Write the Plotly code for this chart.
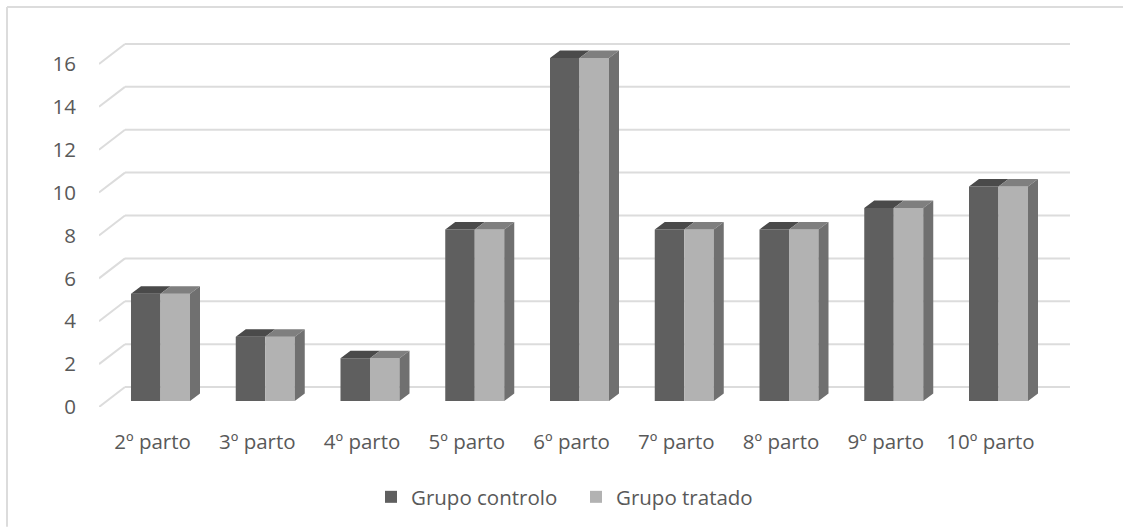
import plotly.graph_objects as go

categories = ["2º parto", "3º parto", "4º parto", "5º parto", "6º parto",
              "7º parto", "8º parto", "9º parto", "10º parto"]
grupo_controlo = [5, 3, 2, 8, 16, 8, 8, 9, 10]
grupo_tratado = [5, 3, 2, 8, 16, 8, 8, 9, 10]
y_ticks = [0, 2, 4, 6, 8, 10, 12, 14, 16]

W, H = 1123, 528
L, R, T, B = 99, 1070, 30, 408          # plot area in page pixels
PX_X = 104.75                           # pixels per category
PX_Y = 21.5                             # pixels per value unit
X0_PX, Y0_PX = 160.5, 402               # where category 0 / value 0 fall

x_range = [(L - X0_PX) / PX_X, (R - X0_PX) / PX_X]
y_range = [(Y0_PX - B) / PX_Y, (Y0_PX - T) / PX_Y]

BAR_W = 59 / PX_X
DX, DY = 10 / PX_X, 7.5 / PX_Y          # bar depth
BACK_X, BACK_Y = 18 / PX_X, 14 / PX_Y   # wall offset behind the bar plane
FRONT_X, FRONT_Y = -8 / PX_X, -6 / PX_Y # floor edge in front of the bar plane

GRID = "#dcdcdc"
TEXT = "#595959"
DARK, LIGHT = "#5f5f5f", "#b2b2b2"
DARK_TOP, LIGHT_TOP, SIDE = "#4a4a4a", "#7f7f7f", "#707070"


def face(values, corners):
    xs, ys = [], []
    for i, v in enumerate(values):
        for cx, cy in corners(i, v):
            xs.append(cx)
            ys.append(cy)
        xs.append(None)
        ys.append(None)
    return xs, ys


fig = go.Figure()
fig.add_bar(x=list(range(len(categories))), y=grupo_controlo, name="Grupo controlo",
            marker=dict(color=DARK, line=dict(width=0)))
fig.add_bar(x=list(range(len(categories))), y=grupo_tratado, name="Grupo tratado",
            marker=dict(color=LIGHT, line=dict(width=0)))


def add_face(values, corners, color):
    xs, ys = face(values, corners)
    fig.add_scatter(x=xs, y=ys, mode="lines", fill="toself", fillcolor=color,
                    line=dict(width=0, color=color), showlegend=False, hoverinfo="skip")


add_face(grupo_controlo,
         lambda i, v: [(i - BAR_W / 2, v), (i, v), (i + DX, v + DY), (i - BAR_W / 2 + DX, v + DY)],
         DARK_TOP)
add_face(grupo_tratado,
         lambda i, v: [(i, v), (i + BAR_W / 2, v), (i + BAR_W / 2 + DX, v + DY), (i + DX, v + DY)],
         LIGHT_TOP)
add_face(grupo_tratado,
         lambda i, v: [(i + BAR_W / 2, 0), (i + BAR_W / 2, v), (i + BAR_W / 2 + DX, v + DY),
                       (i + BAR_W / 2 + DX, DY)],
         SIDE)

shapes = []
for t in y_ticks:
    # oblique floor/wall join, then the line along the back wall
    shapes.append(dict(type="line", layer="below", xref="x", yref="y",
                       x0=x_range[0], y0=t + FRONT_Y,
                       x1=x_range[0] + BACK_X - FRONT_X, y1=t + BACK_Y,
                       line=dict(color=GRID, width=2)))
    shapes.append(dict(type="line", layer="below", xref="x", yref="y",
                       x0=x_range[0] + BACK_X - FRONT_X, y0=t + BACK_Y,
                       x1=x_range[1], y1=t + BACK_Y,
                       line=dict(color=GRID, width=2)))

pw, ph = R - L, B - T
px = lambda v: (v - L) / pw
py = lambda v: (B - v) / ph
shapes.append(dict(type="line", xref="paper", yref="paper", x0=px(7), y0=py(7), x1=px(W), y1=py(7),
                   line=dict(color=GRID, width=2)))
shapes.append(dict(type="line", xref="paper", yref="paper", x0=px(7), y0=py(7), x1=px(7), y1=py(H),
                   line=dict(color=GRID, width=2)))

font = dict(family="Open Sans, sans-serif", size=20.5, color=TEXT)
fig.update_layout(
    width=W, height=H, autosize=False,
    margin=dict(l=L, r=W - R, t=T, b=H - B, pad=0),
    paper_bgcolor="white", plot_bgcolor="white",
    barmode="group", bargap=1 - BAR_W, bargroupgap=0,
    font=font, shapes=shapes,
    legend=dict(orientation="h", x=px(371), xanchor="left", y=py(497), yanchor="middle",
                font=font, bgcolor="rgba(0,0,0,0)", itemwidth=30,
                entrywidth=160, entrywidthmode="pixels"),
    xaxis=dict(range=x_range, tickmode="array",
               tickvals=[i + FRONT_X for i in range(len(categories))],
               ticktext=categories, showgrid=False, zeroline=False, showline=False,
               ticks="outside", ticklen=16, tickcolor="rgba(0,0,0,0)", tickfont=font),
    yaxis=dict(range=y_range, tickmode="array", tickvals=[t + FRONT_Y for t in y_ticks],
               ticktext=[str(t) for t in y_ticks], showgrid=False, zeroline=False, showline=False,
               ticks="outside", ticklen=18, tickcolor="rgba(0,0,0,0)", tickfont=font),
)
fig.write_html("out.html", config=dict(displayModeBar=False),
               post_script="document.body.style.margin='0';")
